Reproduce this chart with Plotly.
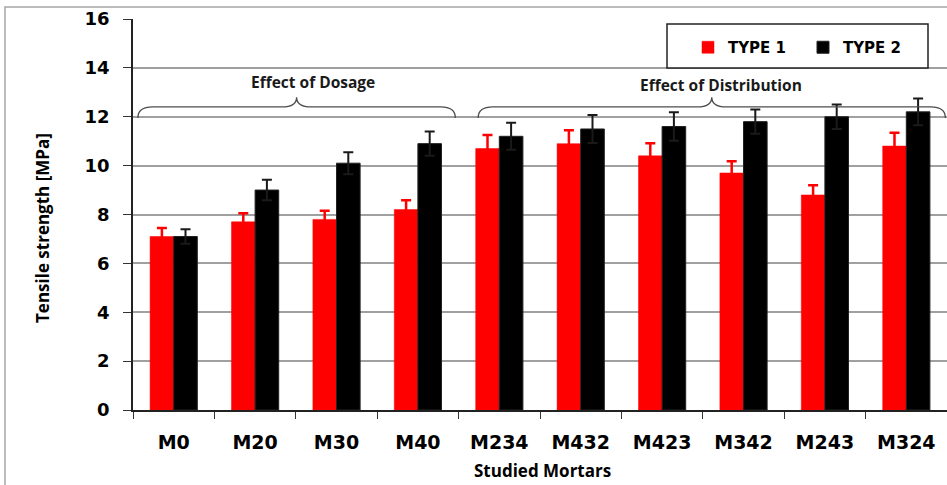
import plotly.graph_objects as go

categories = ["M0", "M20", "M30", "M40", "M234", "M432", "M423", "M342", "M243", "M324"]
type1 = [7.1, 7.7, 7.8, 8.2, 10.7, 10.9, 10.4, 9.7, 8.8, 10.8]
type1_err = [0.35, 0.35, 0.35, 0.38, 0.55, 0.55, 0.52, 0.48, 0.4, 0.55]
type2 = [7.1, 9.0, 10.1, 10.9, 11.2, 11.5, 11.6, 11.8, 12.0, 12.2]
type2_err = [0.3, 0.42, 0.45, 0.5, 0.55, 0.57, 0.58, 0.5, 0.5, 0.55]
series_names = ["TYPE 1", "TYPE 2"]
y_ticks = [0, 2, 4, 6, 8, 10, 12, 14, 16]
group_labels = ["Effect of Dosage", "Effect of Distribution"]

W, H = 947, 485
L, R, T, B = 133, 0, 19, 75
PW = W - L - R
PH = H - T - B
NCAT = len(categories)

def px_x(px):
    return (px - L) / PW

def px_y(py):
    return (H - B - py) / PH

def cat_paper(c):
    return (c + 0.5) / NCAT

TICK_FONT = "DejaVu Sans"
TITLE_FONT = "Open Sans"

fig = go.Figure()
fig.add_trace(go.Bar(
    x=categories, y=type1, name=series_names[0],
    marker=dict(color="#ff0000", line=dict(color="#ff0000", width=0.5)),
    error_y=dict(type="data", array=type1_err, color="#ff0000", thickness=2.5, width=5),
))
fig.add_trace(go.Bar(
    x=categories, y=type2, name=series_names[1],
    marker=dict(color="#000000", line=dict(color="#222222", width=1)),
    error_y=dict(type="data", array=type2_err, color="#1a1a1a", thickness=2, width=5),
))

shapes = []
# outer frame
shapes.append(dict(type="rect", xref="paper", yref="paper",
                   x0=px_x(5), x1=px_x(W + 20), y0=px_y(H + 20), y1=px_y(7),
                   line=dict(color="#a6a6a6", width=1.5), layer="below"))
# legend box
shapes.append(dict(type="rect", xref="paper", yref="paper",
                   x0=px_x(667), x1=px_x(928), y0=px_y(68), y1=px_y(24),
                   line=dict(color="#222222", width=1.5), fillcolor="white", layer="above"))

def brace(c0, c1, cp, y_end=11.95, y_flat=12.4, y_peak=12.8, r=0.18):
    x0, x1, xp = cat_paper(c0), cat_paper(c1), cat_paper(cp)
    d = r / NCAT
    p = (f"M {x0},{y_end} Q {x0},{y_flat} {x0 + d},{y_flat} "
         f"L {xp - d},{y_flat} Q {xp},{y_flat} {xp},{y_peak} "
         f"Q {xp},{y_flat} {xp + d},{y_flat} "
         f"L {x1 - d},{y_flat} Q {x1},{y_flat} {x1},{y_end}")
    return dict(type="path", xref="paper", yref="y", path=p,
                line=dict(color="#4d4d4d", width=1.3))

shapes.append(brace(-0.44, 3.46, 1.51))
shapes.append(brace(3.74, 9.48, 6.61))

annotations = [
    dict(text=group_labels[0], xref="paper", yref="y", x=cat_paper(1.71), y=13.42,
         xanchor="center", yanchor="middle",
         showarrow=False, font=dict(family=TITLE_FONT, size=15.5, color="#1a1a1a", weight="bold")),
    dict(text=group_labels[1], xref="paper", yref="y", x=cat_paper(6.72), y=13.3,
         xanchor="center", yanchor="middle",
         showarrow=False, font=dict(family=TITLE_FONT, size=15.5, color="#1a1a1a", weight="bold")),
    dict(text="Tensile strength [MPa]", xref="paper", yref="paper", x=px_x(42), y=px_y(228),
         xanchor="center", yanchor="middle",
         textangle=-90, showarrow=False,
         font=dict(family=TITLE_FONT, size=17, color="#000000", weight="bold")),
    dict(text="Studied Mortars", xref="paper", yref="paper", x=px_x(542), y=px_y(471),
         xanchor="center", yanchor="middle",
         showarrow=False, font=dict(family=TITLE_FONT, size=17, color="#000000", weight="bold")),
]

fig.update_layout(
    width=W, height=H,
    margin=dict(l=L, r=R, t=T, b=B, pad=0, autoexpand=False),
    paper_bgcolor="white", plot_bgcolor="white",
    barmode="group", bargap=0.42, bargroupgap=0,
    shapes=shapes, annotations=annotations,
    showlegend=True,
    legend=dict(orientation="h", x=px_x(688), y=px_y(31), xanchor="left", yanchor="top",
                bgcolor="rgba(0,0,0,0)", borderwidth=0, entrywidth=70, itemwidth=30,
                font=dict(family=TICK_FONT, size=15, color="#000000", weight="bold")),
    xaxis=dict(type="category", range=[-0.5, NCAT - 0.5], showline=True, linecolor="#222222",
               linewidth=1.5, ticks="outside", ticklen=7, tickwidth=1.3, tickcolor="#333333",
               tickson="boundaries", showgrid=False, ticklabelstandoff=14,
               tickfont=dict(family=TICK_FONT, size=19, color="#000000", weight="bold")),
    yaxis=dict(range=[0, 16], tickvals=y_ticks, showline=True, linecolor="#222222", linewidth=1.5,
               ticks="outside", ticklen=8, tickwidth=1.3, tickcolor="#333333",
               showgrid=True, gridcolor="#a0a0a0", gridwidth=1.5, zeroline=False,
               ticklabelstandoff=10,
               tickfont=dict(family=TICK_FONT, size=18, color="#000000", weight="bold")),
)

fig.write_html("out.html")
